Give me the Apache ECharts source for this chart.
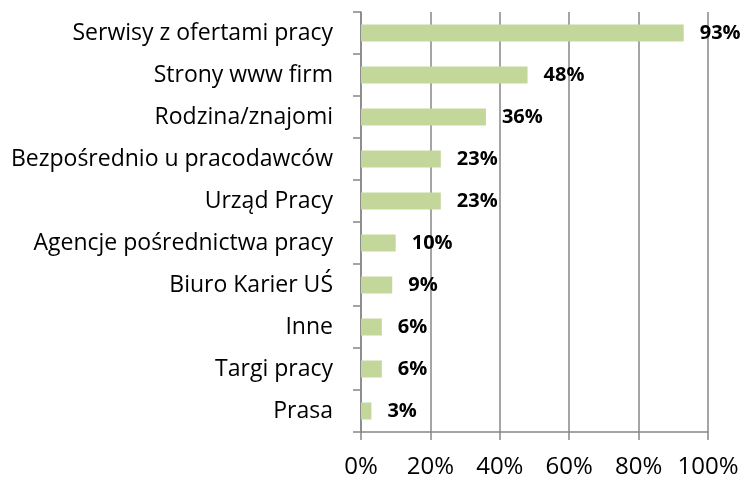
<!DOCTYPE html>
<html>
<head>
<meta charset="utf-8">
<script src="https://cdn.jsdelivr.net/npm/echarts@6/dist/echarts.min.js"></script>
<style>
  html, body { margin: 0; padding: 0; background: #fff; }
  #chart { width: 743px; height: 479px; }
</style>
</head>
<body>
<div id="chart"></div>
<script>
// kategorie od góry do dołu
var categories = ['Serwisy z ofertami pracy', 'Strony www firm', 'Rodzina/znajomi',
  'Bezpośrednio u pracodawców', 'Urząd Pracy', 'Agencje pośrednictwa pracy',
  'Biuro Karier UŚ', 'Inne', 'Targi pracy', 'Prasa'];
var values = [0.93, 0.48, 0.36, 0.23, 0.23, 0.10, 0.09, 0.06, 0.06, 0.03];
var xTicks = [0, 0.2, 0.4, 0.6, 0.8, 1];

var gridColor = '#878787';
var font = '"Open Sans", sans-serif';

var myChart = echarts.init(document.getElementById('chart'));
var option = {
  animation: false,
  grid: { left: 361, top: 12, right: 35, bottom: 47 },
  xAxis: {
    type: 'value',
    min: xTicks[0],
    max: xTicks[xTicks.length - 1],
    interval: 0.2,
    axisLine: { show: true, lineStyle: { color: gridColor, width: 1.5 } },
    axisTick: { show: true, length: 8, lineStyle: { color: gridColor, width: 1.5 } },
    splitLine: { show: true, lineStyle: { color: gridColor, width: 1.5 } },
    axisLabel: {
      margin: 23,
      fontSize: 24,
      color: '#000',
      fontFamily: font,
      formatter: function (v) { return Math.round(v * 100) + '%'; }
    }
  },
  yAxis: {
    type: 'category',
    inverse: true,
    data: categories,
    axisLine: { show: true, lineStyle: { color: gridColor, width: 1.5 } },
    axisTick: { show: true, length: 8, lineStyle: { color: gridColor, width: 1.5 } },
    axisLabel: { margin: 28, fontSize: 23, color: '#000', fontFamily: font }
  },
  series: [{
    type: 'bar',
    data: values,
    barWidth: 17,
    itemStyle: { color: '#c4d79b' },
    label: {
      show: true,
      position: 'right',
      distance: 16,
      fontSize: 20,
      fontWeight: 'bold',
      color: '#000',
      fontFamily: font,
      formatter: function (p) { return Math.round(p.value * 100) + '%'; }
    }
  }]
};
myChart.setOption(option);
</script>
</body>
</html>
